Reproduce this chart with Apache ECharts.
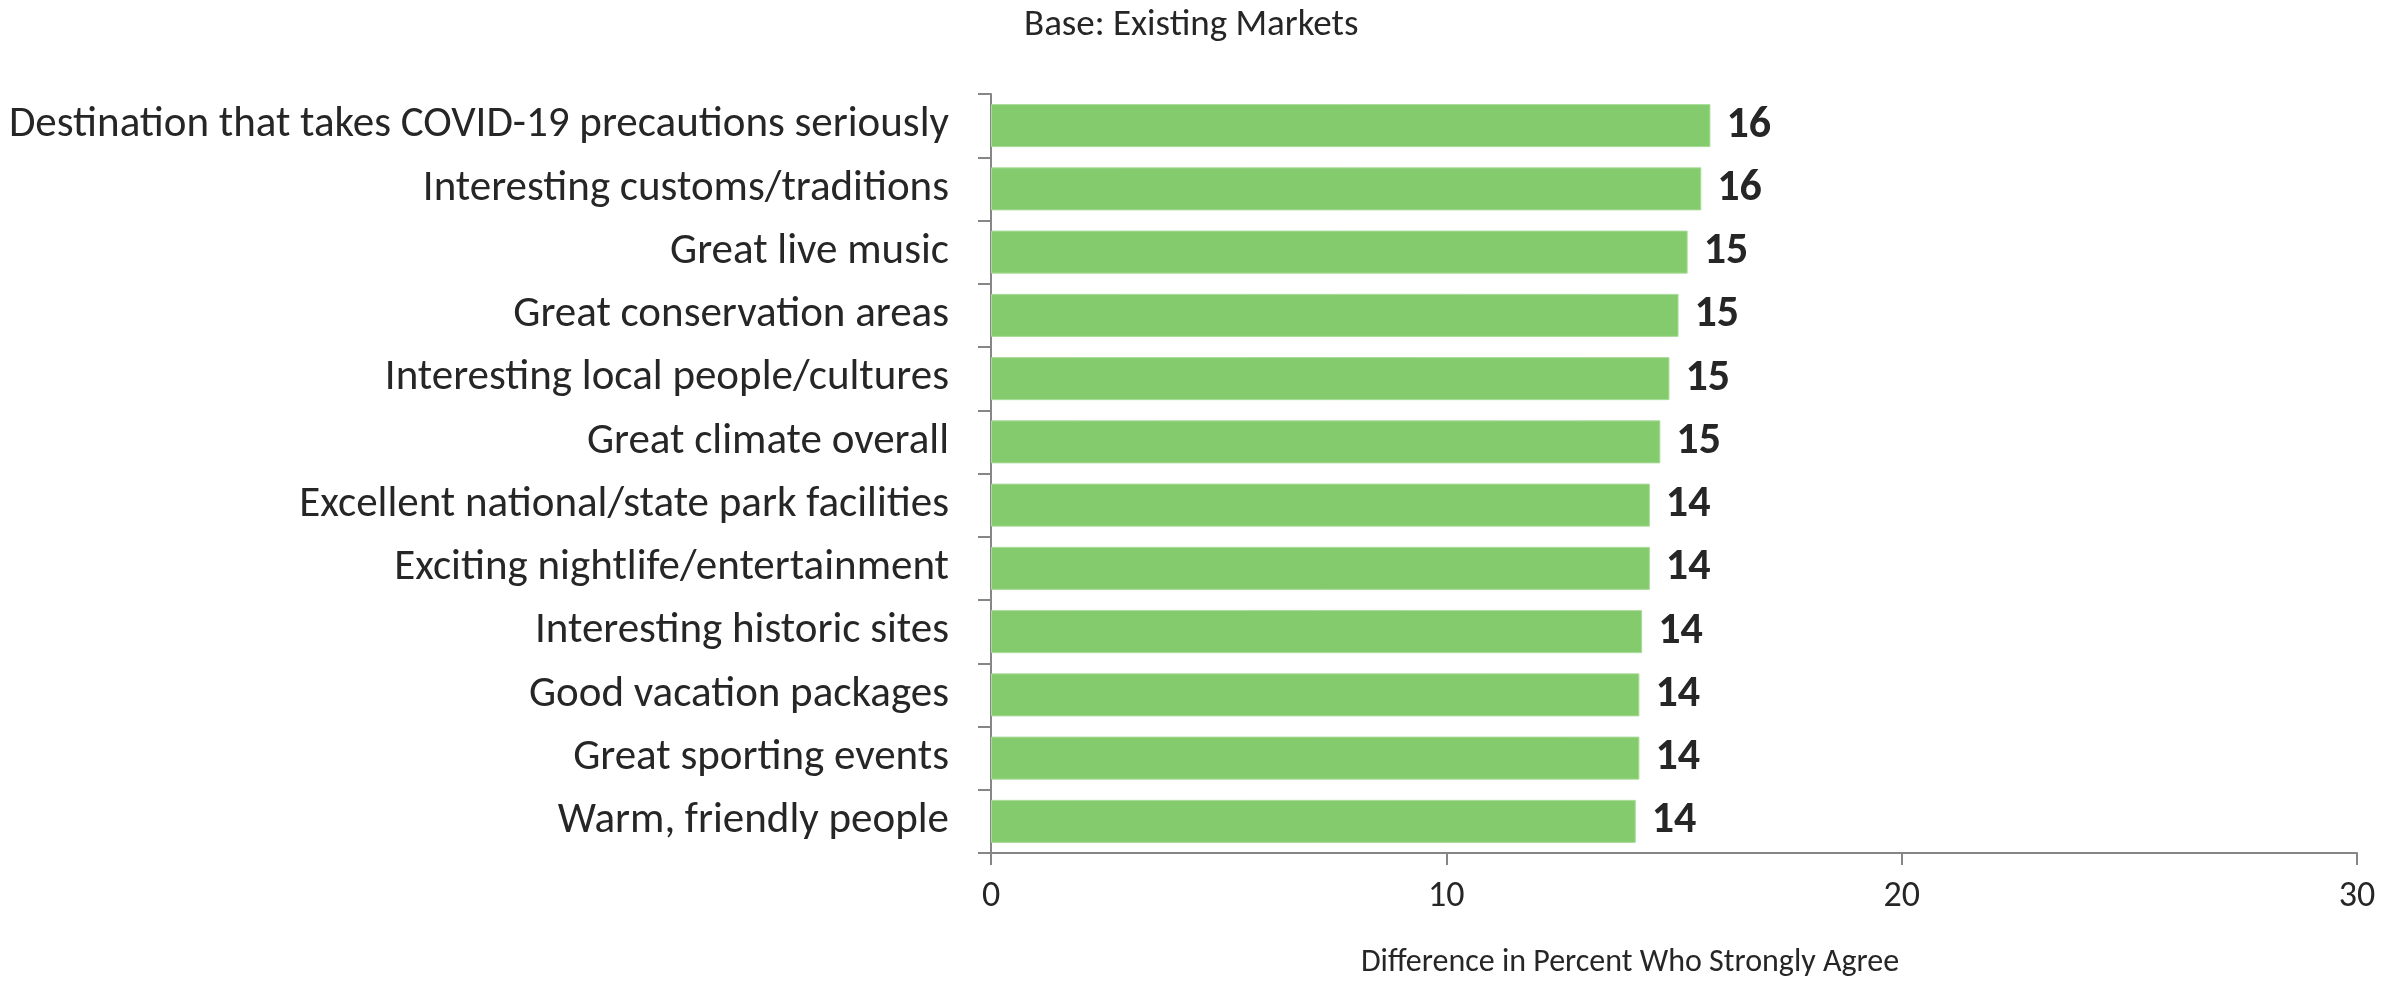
<!DOCTYPE html>
<html>
<head>
<meta charset="utf-8">
<title>Base: Existing Markets</title>
<script src="https://cdn.jsdelivr.net/npm/echarts@6/dist/echarts.min.js"></script>
<style>
    html,body{margin:0;padding:0;background:#fff;}
    #chart{width:2407px;height:981px;}
</style>
</head>
<body>
<div id="chart"></div>
<script>
// categories, top to bottom
var categories = [
    'Destination that takes COVID-19 precautions seriously',
    'Interesting customs/traditions',
    'Great live music',
    'Great conservation areas',
    'Interesting local people/cultures',
    'Great climate overall',
    'Excellent national/state park facilities',
    'Exciting nightlife/entertainment',
    'Interesting historic sites',
    'Good vacation packages',
    'Great sporting events',
    'Warm, friendly people'
];
// difference in percent who strongly agree
var values = [15.8, 15.6, 15.3, 15.1, 14.9, 14.7, 14.47, 14.47, 14.3, 14.24, 14.24, 14.16];
var xTicks = [0, 10, 20, 30];

var font = "Carlito, 'Liberation Sans Narrow', 'Liberation Sans', sans-serif";
var axisGray = '#868686';

var chart = echarts.init(document.getElementById('chart'));
chart.setOption({
    animation: false,
    title: {
        text: 'Base: Existing Markets',
        left: 1019,
        top: 2,
        textStyle: {fontFamily: font, fontSize: 37, fontWeight: 'normal', color: '#262626'}
    },
    grid: {left: 991, right: 50, top: 94, bottom: 128, containLabel: false, outerBoundsMode: 'none'},
    xAxis: {
        type: 'value',
        min: xTicks[0],
        max: xTicks[xTicks.length - 1],
        interval: 10,
        name: 'Difference in Percent Who Strongly Agree',
        nameLocation: 'middle',
        nameGap: 94,
        nameTextStyle: {fontFamily: font, fontSize: 32, color: '#262626', padding: [0, 88, 0, 0]},
        axisLine: {show: true, lineStyle: {color: axisGray, width: 2}},
        axisTick: {show: true, length: 12, lineStyle: {color: axisGray, width: 2}},
        axisLabel: {fontFamily: font, fontSize: 36, color: '#262626', margin: 26},
        splitLine: {show: false}
    },
    yAxis: {
        type: 'category',
        data: categories,
        inverse: true,
        axisLine: {show: true, lineStyle: {color: axisGray, width: 2}},
        axisTick: {show: true, length: 13, lineStyle: {color: axisGray, width: 2}},
        axisLabel: {fontFamily: font, fontSize: 43, color: '#262626', margin: 42}
    },
    series: [{
        type: 'bar',
        data: values,
        barCategoryGap: '32%',
        itemStyle: {color: '#83cb6c', borderColor: '#a9dc9a', borderWidth: 1},
        label: {
            show: true,
            position: 'right',
            distance: 16,
            fontFamily: font,
            fontSize: 44,
            fontWeight: 'bold',
            color: '#262626',
            formatter: function (p) { return Math.round(p.value); }
        }
    }]
});
</script>
</body>
</html>
